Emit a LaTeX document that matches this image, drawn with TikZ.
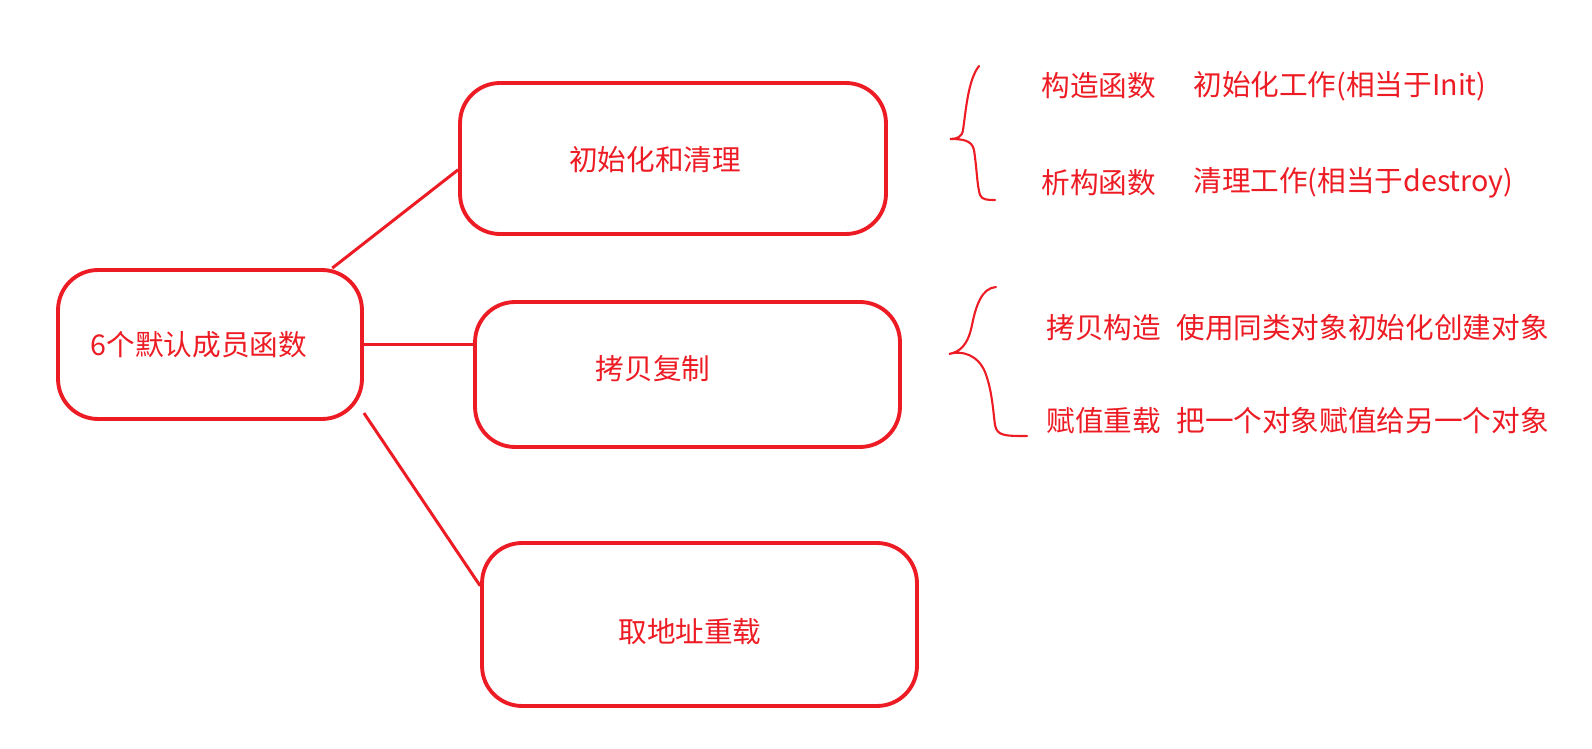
\documentclass[tikz,border=0pt]{standalone}
\usepackage{fontspec}
\newfontfamily\cjk{Noto Sans CJK SC}
\usetikzlibrary{positioning, calc}
\usepackage{xcolor}
\definecolor{paintred}{RGB}{237,28,36}

\begin{document}
\begin{tikzpicture}[x=0.02cm, y=-0.02cm,
  box/.style={draw=paintred, line width=2.2pt, rounded corners=0.8cm},
  txt/.style={text=paintred, inner sep=0pt, font=\cjk\fontsize{16.3}{20}\selectfont},
  link/.style={paintred, line width=1.7pt},
  brace/.style={paintred, line width=1.2pt, line cap=round}]
  \useasboundingbox (0,0) rectangle (1592,749);
  % boxes
  \node[box, minimum width=8.52cm, minimum height=3.02cm] (init) at (673,158.5) {};
  \node[txt] (initT) at (655,160) {初始化和清理};
  \node[box, minimum width=6.08cm, minimum height=2.98cm] (main) at (210,344.5) {};
  \node[txt] (mainT) at (199,345) {6个默认成员函数};
  \node[box, minimum width=8.5cm, minimum height=2.9cm] (copy) at (687.5,374.5) {};
  \node[txt] (copyT) at (653,369) {拷贝复制};
  \node[box, minimum width=8.7cm, minimum height=3.26cm] (addr) at (699.5,624.5) {};
  \node[txt] (addrT) at (690,632) {取地址重载};
  % links
  \draw[link] (main.32) -- (init.183);
  \draw[link] (main.east) -- (main.east -| copy.west);
  \draw[link] (main.-24) -- (addr.170);
  % braces
  \draw[brace] (979,66) .. controls (968,80) and (966,110) .. (963,130)
    .. controls (962,137) and (957,139) .. (950,139)
    .. controls (962,139) and (972,140) .. (974,150)
    .. controls (977,170) and (977,185) .. (980,195)
    .. controls (982,200) and (988,200) .. (995,200);
  \draw[brace] (996,287) .. controls (982,288) and (976,305) .. (972,325)
    .. controls (968,345) and (960,352) .. (949,354)
    .. controls (962,350) and (978,355) .. (985,372)
    .. controls (992,390) and (993,410) .. (995,425)
    .. controls (997,436) and (1005,436) .. (1027,436);
  % members
  \node[txt, anchor=west] (ctor) at (1041,86) {构造函数};
  \node[txt, anchor=west] (ctorD) at (1193,86) {初始化工作(相当于Init)};
  \node[txt, anchor=west] (dtor) at (1041,183) {析构函数};
  \node[txt, anchor=west] (dtorD) at (1193,183) {清理工作(相当于destroy)};
  \node[txt, anchor=west] (cctor) at (1046,328) {拷贝构造};
  \node[txt, anchor=west] (cctorD) at (1176,328) {使用同类对象初始化创建对象};
  \node[txt, anchor=west] (assign) at (1046,421) {赋值重载};
  \node[txt, anchor=west] (assignD) at (1176,421) {把一个对象赋值给另一个对象};
\end{tikzpicture}
\end{document}
